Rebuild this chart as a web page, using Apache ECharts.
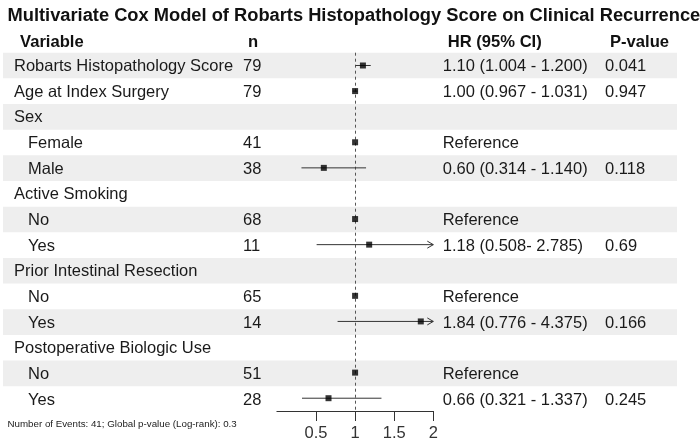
<!DOCTYPE html>
<html>
<head>
<meta charset="utf-8">
<script src="https://cdn.jsdelivr.net/npm/echarts@6/dist/echarts.min.js"></script>
<style>
html,body{margin:0;padding:0;background:#fff;}
#chart{width:700px;height:442px;}
</style>
</head>
<body>
<div id="chart"></div>
<script>
// ---- Data ----
const rowLabels = ['Robarts Histopathology Score','Age at Index Surgery','Sex','Female','Male','Active Smoking','No','Yes','Prior Intestinal Resection','No','Yes','Postoperative Biologic Use','No','Yes'];
const isSubRow = [false,false,false,true,true,false,true,true,false,true,true,false,true,true];
const nValues = [79,79,null,41,38,null,68,11,null,65,14,null,51,28];
const hrValues = [1.10,1.00,null,1,0.60,null,1,1.18,null,1,1.84,null,1,0.66];
const ciLower = [1.004,0.967,null,null,0.314,null,null,0.508,null,null,0.776,null,null,0.321];
const ciUpper = [1.200,1.031,null,null,1.140,null,null,2.785,null,null,4.375,null,null,1.337];
const hrTexts = ['1.10 (1.004 - 1.200)','1.00 (0.967 - 1.031)','','Reference','0.60 (0.314 - 1.140)','','Reference','1.18 (0.508- 2.785)','','Reference','1.84 (0.776 - 4.375)','','Reference','0.66 (0.321 - 1.337)'];
const pValues = ['0.041','0.947','','','0.118','','','0.69','','','0.166','','','0.245'];
const xTicks = [0.5,1,1.5,2];
const headers = ['Variable','n','HR (95% CI)','P-value'];
const titleText = 'Multivariate Cox Model of Robarts Histopathology Score on Clinical Recurrence';
const footnote = 'Number of Events: 41; Global p-value (Log-rank): 0.3';

// ---- Layout ----
const FONT = '"Liberation Sans", Arial, Helvetica, sans-serif';
const TXT = '#1a1a1a';
const gridTop = 52.7, gridH = 359.2;
const tableLeft = 3, tableW = 674;
const colX = {label: 11, sub: 25, n: 240, hr: 439.7, p: 602}; // offsets from tableLeft
const axisMax = 2;

const rowIdx = rowLabels.map((_, i) => i);
const textCells = [];
rowLabels.forEach((lab, i) => {
  textCells.push({x: isSubRow[i] ? colX.sub : colX.label, row: i, text: lab});
  if (nValues[i] != null) textCells.push({x: colX.n, row: i, text: String(nValues[i])});
  if (hrTexts[i]) textCells.push({x: colX.hr, row: i, text: hrTexts[i]});
  if (pValues[i]) textCells.push({x: colX.p, row: i, text: pValues[i]});
});

const pointData = [];
const ciData = [];
rowLabels.forEach((_, i) => {
  if (hrValues[i] != null) pointData.push([hrValues[i], i]);
  if (ciLower[i] != null) ciData.push([ciLower[i], ciUpper[i], i]);
});

const headerX = [15, 243, 442.7, 605];

const titles = [{
  text: titleText, left: 2.5, top: 2,
  textStyle: {fontFamily: FONT, fontSize: 18.3, fontWeight: 'bold', color: '#111'}
}];
headers.forEach((h, k) => titles.push({
  text: h, left: headerX[k], top: 29,
  textStyle: {fontFamily: FONT, fontSize: 16.6, fontWeight: 'bold', color: '#111'}
}));
titles.push({
  text: footnote, left: 2.5, top: 414.5,
  textStyle: {fontFamily: FONT, fontSize: 9.75, fontWeight: 'normal', color: '#222'}
});

const chart = echarts.init(document.getElementById('chart'), null, {renderer: 'canvas'});
chart.setOption({
  animation: false,
  backgroundColor: '#fff',
  title: titles,
  grid: [
    {left: tableLeft, top: gridTop, width: tableW, height: gridH, containLabel: false},
    {left: 276.9, top: gridTop, width: 156.4, height: gridH, containLabel: false}
  ],
  xAxis: [
    {gridIndex: 0, type: 'value', min: 0, max: 1, show: false},
    {gridIndex: 0, type: 'value', min: 0, max: tableW, show: false},
    {gridIndex: 1, type: 'value', min: 0, max: axisMax, interval: 0.5,
      splitLine: {show: false},
      axisLine: {show: true, onZero: false, lineStyle: {color: '#333', width: 1}},
      axisTick: {show: true, length: 10, inside: false, customValues: xTicks, lineStyle: {color: '#333', width: 1}},
      axisLabel: {show: true, customValues: xTicks, margin: 14, fontFamily: FONT, fontSize: 16.5, color: '#333',
        formatter: v => (xTicks.indexOf(v) >= 0 ? String(v) : '')}
    }
  ],
  yAxis: [
    {gridIndex: 0, type: 'category', data: rowIdx, inverse: true, show: false, boundaryGap: true},
    {gridIndex: 1, type: 'category', data: rowIdx, inverse: true, show: false, boundaryGap: true}
  ],
  series: [
    {
      type: 'bar', xAxisIndex: 0, yAxisIndex: 0, silent: true, z: 0,
      barWidth: '100%', barCategoryGap: '0%',
      itemStyle: {color: '#eeeeee'},
      data: rowIdx.map(i => (i % 2 === 0 ? 1 : 0))
    },
    {
      type: 'custom', xAxisIndex: 1, yAxisIndex: 0, silent: true, z: 2,
      data: textCells.map(c => [c.x, c.row]),
      renderItem: function (params, api) {
        const p = api.coord([api.value(0), api.value(1)]);
        return {
          type: 'text', x: p[0], y: p[1] + 1,
          style: {text: textCells[params.dataIndex].text, font: '16.5px ' + FONT, fill: TXT,
            textAlign: 'left', textVerticalAlign: 'middle'}
        };
      }
    },
    {
      type: 'custom', xAxisIndex: 2, yAxisIndex: 1, silent: true, z: 3, clip: false,
      data: ciData,
      renderItem: function (params, api) {
        const lo = api.value(0), hi = api.value(1), r = api.value(2);
        const a = api.coord([Math.max(lo, 0), r]);
        const b = api.coord([Math.min(hi, axisMax), r]);
        const children = [{
          type: 'line', shape: {x1: a[0], y1: a[1], x2: b[0], y2: b[1]},
          style: {stroke: '#333', lineWidth: 1}
        }];
        if (hi > axisMax) {
          children.push({type: 'polyline', shape: {points: [[b[0] - 6, b[1] - 3.5], [b[0], b[1]], [b[0] - 6, b[1] + 3.5]]},
            style: {stroke: '#333', lineWidth: 1, fill: null}});
        }
        return {type: 'group', children: children};
      }
    },
    {
      type: 'scatter', xAxisIndex: 2, yAxisIndex: 1, silent: true, z: 4,
      symbol: 'rect', symbolSize: 6,
      itemStyle: {color: '#000'},
      data: pointData,
      markLine: {
        silent: true, symbol: 'none', z: 1,
        label: {show: false},
        lineStyle: {type: [3, 3], color: '#555', width: 1},
        data: [{xAxis: 1}]
      }
    }
  ]
});
</script>
</body>
</html>
